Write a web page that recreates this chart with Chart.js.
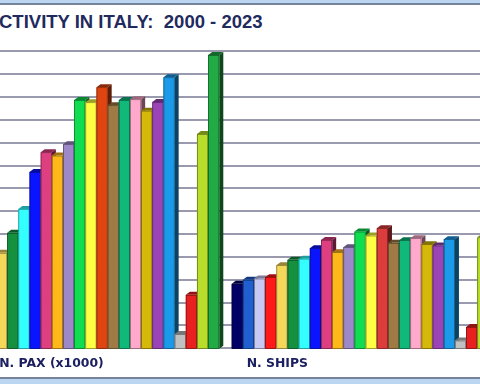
<!DOCTYPE html>
<html>
<head>
<meta charset="utf-8">
<script src="https://cdn.jsdelivr.net/npm/chart.js@4.4.1/dist/chart.umd.min.js"></script>
<style>
  html, body { margin:0; padding:0; }
  body { width:480px; height:384px; overflow:hidden; position:relative; background:#ffffff; }
  #topband { position:absolute; left:0; top:0; width:480px; height:3px; background:#bcd5f0; border-bottom:2px solid #74829c; }
  #botband { position:absolute; left:0; top:377px; width:480px; height:5px; background:#bcd5f0; border-top:2px solid #74829c; }
  #title { position:absolute; left:-1px; top:11px; line-height:22px; font-family:"Liberation Sans", Arial, sans-serif; font-weight:bold; font-size:18.5px; color:#1f2a5e; white-space:pre; }
  #c { position:absolute; left:-60px; top:0; }
</style>
</head>
<body>
<div id="topband"></div>
<div id="botband"></div>
<div id="title">CTIVITY IN ITALY:  2000 - 2023</div>
<canvas id="c" width="572" height="384"></canvas>
<script>
// ---- data ----
const categories = ['N. PAX (x1000)', 'N. SHIPS'];
const years = ['2000','2001','2002','2003','2004','2005','2006','2007','2008','2009','2010','2011',
               '2012','2013','2014','2015','2016','2017','2018','2019','2020','2021','2022','2023'];
const paxValues  = [2500, 2800, 3100, 3500, 4180, 5055, 6105, 7724, 8586, 8438, 8937, 10875,
                    10774, 11431, 10643, 10875, 10906, 10407, 10788, 11868, 621, 2341, 9387, 12845];
const shipValues = [2823, 2998, 3055, 3116, 3641, 3873, 3926, 4385, 4748, 4210, 4429, 5112,
                    4937, 5260, 4617, 4735, 4823, 4560, 4499, 4779, 341, 928, 4858, 5100];
const paxColors  = ['#000066','#1f5fd0','#c8c8f4','#ff1a1a','#f5d75a','#15903f','#33ffff','#0a14ff',
                    '#dd3f80','#ffb81a','#9d88c8','#10dd50','#ffff44','#e04410','#a07a44','#10b87a',
                    '#ffaacc','#d4b80a','#9a44b8','#1a9ae8','#c0c0c0','#e82020','#b8dd2a','#22aa44'];
const shipColors = ['#000066','#1f5fd0','#c8c8f4','#ff1a1a','#f5d75a','#15903f','#33ffff','#0a14ff',
                    '#dd3f80','#ffb81a','#9d88c8','#10dd50','#ffff44','#dd3c3c','#a07a44','#10b87a',
                    '#ffaacc','#d4b80a','#9a44b8','#1a9ae8','#c0c0c0','#e82020','#b8dd2a','#22aa44'];

// ---- helpers ----
function shade(hex, f) {
  const n = parseInt(hex.slice(1), 16);
  const r = Math.round(((n >> 16) & 255) * f), g = Math.round(((n >> 8) & 255) * f), b = Math.round((n & 255) * f);
  return 'rgb(' + r + ',' + g + ',' + b + ')';
}

const DX = 4, DY = 3;
const bars3d = {
  id: 'bars3d',
  beforeDatasetsDraw(chart) {
    const ctx = chart.ctx;
    ctx.save();
    const nCat = chart.data.labels.length;
    for (let j = 0; j < nCat; j++) {
      chart.data.datasets.forEach((ds, di) => {
        const el = chart.getDatasetMeta(di).data[j];
        const p = el.getProps(['x', 'y', 'base', 'width'], true);
        const l = p.x - p.width / 2, r = p.x + p.width / 2, t = p.y, b = p.base + 1.5;
        const col = ds.backgroundColor[j];
        // side face
        ctx.fillStyle = shade(col, 0.42);
        ctx.beginPath();
        ctx.moveTo(r, t); ctx.lineTo(r + DX, t - DY); ctx.lineTo(r + DX, b - DY); ctx.lineTo(r, b);
        ctx.closePath(); ctx.fill();
        // top face
        ctx.fillStyle = shade(col, 0.62);
        ctx.beginPath();
        ctx.moveTo(l, t); ctx.lineTo(l + DX, t - DY); ctx.lineTo(r + DX, t - DY); ctx.lineTo(r, t);
        ctx.closePath(); ctx.fill();
        // front face
        ctx.fillStyle = col;
        ctx.fillRect(l, t, p.width, b - t);
        ctx.strokeStyle = shade(col, 0.55);
        ctx.lineWidth = 0.8;
        ctx.strokeRect(l + 0.4, t + 0.4, p.width - 0.8, b - t - 0.8);
      });
    }
    ctx.restore();
    return false;
  }
};

const catLabels = {
  id: 'catLabels',
  afterDraw(chart, args, opts) {
    const ctx = chart.ctx, xs = chart.scales.x;
    ctx.save();
    ctx.font = 'bold 12.4px "DejaVu Sans", Verdana, sans-serif';
    ctx.fillStyle = '#1c2060';
    ctx.textAlign = 'left';
    ctx.textBaseline = 'alphabetic';
    chart.data.labels.forEach((lab, i) => {
      ctx.fillText(lab, xs.getPixelForValue(i) + opts.shift[i], opts.baseline);
    });
    ctx.restore();
  }
};

const datasets = years.map((yr, i) => ({
  label: yr,
  data: [paxValues[i], shipValues[i]],
  backgroundColor: [paxColors[i], shipColors[i]],
  categoryPercentage: 0.9557,
  barPercentage: 1.0
}));

new Chart(document.getElementById('c'), {
  type: 'bar',
  data: { labels: categories, datasets: datasets },
  plugins: [bars3d, catLabels],
  options: {
    responsive: false,
    animation: false,
    events: [],
    layout: { padding: { left: 5.2, right: 6.2, top: 51.45, bottom: 35.7 } },
    plugins: {
      legend: { display: false },
      title: { display: false },
      tooltip: { enabled: false },
      catLabels: { shift: [-86.2, -119], baseline: 366.5 }
    },
    scales: {
      x: { display: false },
      y: {
        min: 0, max: 13000,
        ticks: { display: false, stepSize: 1000 },
        grid: { color: '#9a9aae', lineWidth: 2, drawTicks: false },
        border: { display: false },
        afterFit(s) { s.width = 0; }
      }
    }
  }
});
</script>
</body>
</html>
